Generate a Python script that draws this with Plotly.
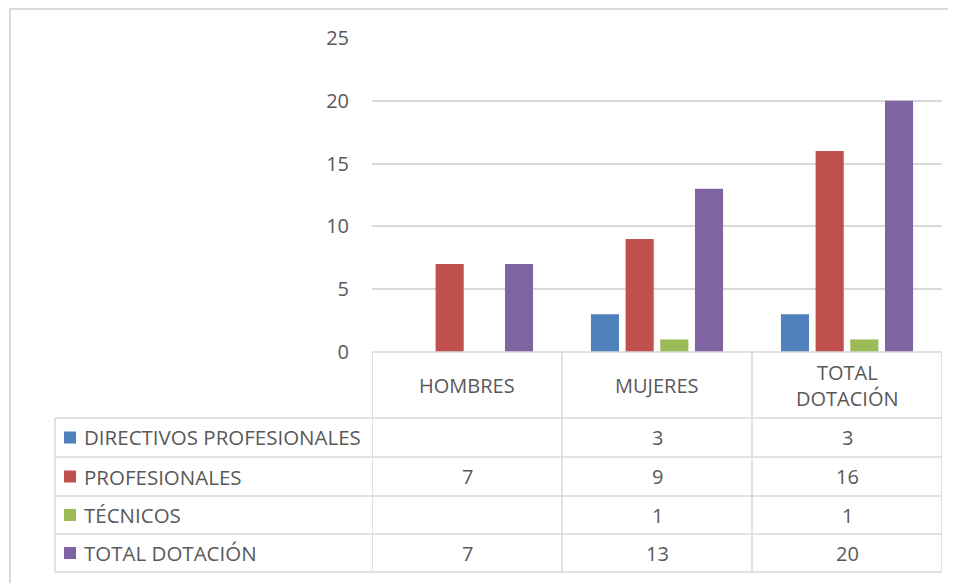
import plotly.graph_objects as go

# data
categories = ["HOMBRES", "MUJERES", "TOTAL<br>DOTACIÓN"]
series_names = ["DIRECTIVOS PROFESIONALES", "PROFESIONALES", "TÉCNICOS", "TOTAL DOTACIÓN"]
directivos = [None, 3, 3]
profesionales = [7, 9, 16]
tecnicos = [None, 1, 1]
total_dotacion = [7, 13, 20]
y_ticks = [0, 5, 10, 15, 20, 25]

series_values = [directivos, profesionales, tecnicos, total_dotacion]
colors = ["#4F81BD", "#C0504D", "#9BBB59", "#8064A2"]

# page body has an 8px margin, so work in page pixels and shift
OFF = 8
W, H = 956 - OFF, 583 - OFF
L, R, T, B = 372 - OFF, 14, 38 - OFF, 231
FONT = "Open Sans"
TXT = "#595959"
LINE = "#d9d9d9"


def px(p):
    # page pixel x -> paper x
    return (p - OFF - L) / (W - L - R)


def py(p):
    # page pixel y -> paper y
    return (H - B - (p - OFF)) / (H - T - B)


xs = list(range(len(categories)))

fig = go.Figure()
for name, vals, c in zip(series_names, series_values, colors):
    fig.add_trace(go.Bar(x=xs, y=vals, name=name, marker_color=c, marker_line_width=0))

shapes = []
annotations = []

# outer chart border
shapes.append(dict(type="rect", xref="paper", yref="paper",
                   x0=px(10), x1=px(990), y0=py(620), y1=py(9),
                   line=dict(color=LINE, width=2)))

# data table grid
row_lines = [418, 457, 496, 534, 572]
shapes.append(dict(type="line", xref="paper", yref="paper", x0=0, x1=1,
                   y0=py(352), y1=py(352), line=dict(color=LINE, width=1.5)))
for yb in row_lines:
    shapes.append(dict(type="line", xref="paper", yref="paper", x0=px(55), x1=1,
                       y0=py(yb), y1=py(yb), line=dict(color=LINE, width=1.5)))
for xb in [-0.5, 0.5, 1.5, 2.5]:
    shapes.append(dict(type="line", xref="x", yref="paper", x0=xb, x1=xb,
                       y0=py(352), y1=py(572), line=dict(color=LINE, width=1.5)))
shapes.append(dict(type="line", xref="paper", yref="paper", x0=px(55), x1=px(55),
                   y0=py(418), y1=py(572), line=dict(color=LINE, width=1.5)))

# header labels
for i, cat in enumerate(categories):
    annotations.append(dict(x=i, y=py(385), xref="x", yref="paper", text=cat,
                            xanchor="center", yanchor="middle", showarrow=False,
                            font=dict(size=20, color=TXT, family=FONT)))

# table rows
for r, (name, vals, c) in enumerate(zip(series_names, series_values, colors)):
    yc = (row_lines[r] + row_lines[r + 1]) / 2
    shapes.append(dict(type="rect", xref="paper", yref="paper",
                       x0=px(64), x1=px(76), y0=py(yc + 6), y1=py(yc - 6),
                       fillcolor=c, line=dict(width=0)))
    annotations.append(dict(x=px(82), y=py(yc), xref="paper", yref="paper", text=name,
                            xanchor="left", yanchor="middle", showarrow=False,
                            font=dict(size=20.5, color=TXT, family=FONT)))
    for i, v in enumerate(vals):
        if v is None:
            continue
        annotations.append(dict(x=i, y=py(yc), xref="x", yref="paper", text=str(v),
                                xanchor="center", yanchor="middle", showarrow=False,
                                font=dict(size=20, color=TXT, family=FONT)))

fig.update_layout(
    width=W, height=H,
    margin=dict(l=L, r=R, t=T, b=B),
    paper_bgcolor="white",
    plot_bgcolor="white",
    barmode="group",
    bargap=0.27,
    bargroupgap=0.19,
    showlegend=False,
    shapes=shapes,
    annotations=annotations,
    xaxis=dict(range=[-0.5, 2.5], showticklabels=False, showgrid=False,
               zeroline=False, fixedrange=True),
    yaxis=dict(range=[0, 25], tickvals=y_ticks, showgrid=True, gridcolor=LINE,
               gridwidth=1.5, zeroline=False, ticklabelstandoff=22,
               tickfont=dict(size=20, color=TXT, family=FONT)),
    font=dict(family=FONT, color=TXT),
)

fig.write_html("out.html")
